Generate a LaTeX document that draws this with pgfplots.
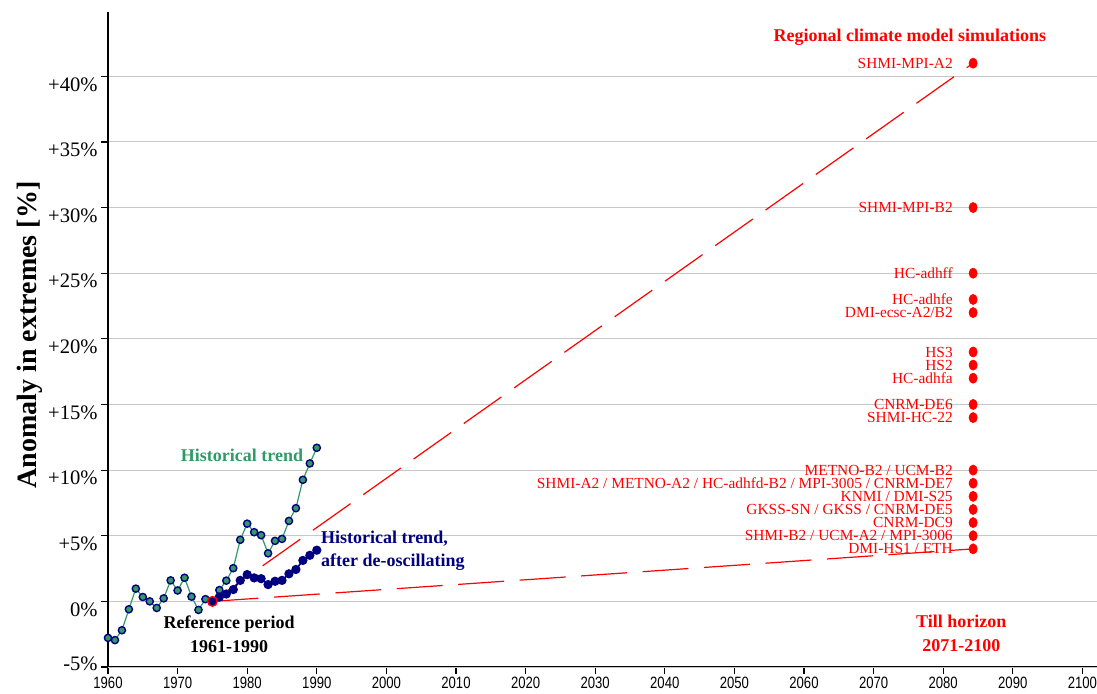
\documentclass[border=0pt]{standalone}
\usepackage{fontspec}
\setmainfont{Liberation Serif}
\newfontfamily\xfont[FakeStretch=0.8]{Liberation Sans}
\usepackage{pgfplots}
\pgfplotsset{compat=1.18}

\definecolor{histgreen}{RGB}{51,153,102}
\definecolor{histnavy}{RGB}{0,0,128}

\begin{document}
\begin{tikzpicture}
\path[use as bounding box] (-54pt,-13pt) rectangle (494.5pt,333.5pt);
\begin{axis}[
    at={(0,0)}, anchor=south west,
    scale only axis, width=494.5pt, height=327.5pt,
    xmin=1960, xmax=2102.1,
    ymin=-5, ymax=44.9,
    axis x line=bottom, axis y line=left,
    axis line style={-, line width=0.75pt},
    tick align=outside, major tick length=3.5pt,
    tick style={black, line width=0.6pt},
    xtick={1960,1970,1980,1990,2000,2010,2020,2030,2040,2050,2060,2070,2080,2090,2100},
    xticklabels={1960,1970,1980,1990,2000,2010,2020,2030,2040,2050,2060,2070,2080,2090,2100},
    xticklabel style={font=\xfont\fontsize{8.2}{9}\selectfont, inner sep=0.5pt, yshift=-1pt},
    ytick={0,5,10,15,20,25,30,35,40},
    yticklabels={0\%,+5\%,+10\%,+15\%,+20\%,+25\%,+30\%,+35\%,+40\%},
    yticklabel style={font=\fontsize{10.3}{12}\selectfont, inner sep=1.5pt, yshift=-4pt},
    extra y ticks={-5},
    extra y tick labels={-5\%},
    extra y tick style={yticklabel style={yshift=5.5pt}},
    ymajorgrids, grid style={black!22, line width=0.5pt},
    ylabel={Anomaly in extremes [\%]},
    ylabel style={font=\fontsize{14}{16}\selectfont\bfseries,
        at={(axis description cs:-0.079,0.507)}, anchor=center},
    clip=true,
]

% projection lines, 1975 -> horizon
\addplot[red, line width=0.6pt, dash pattern=on 23pt off 7.8pt] coordinates {(1975,0) (2084.3,41)};
\addplot[red, line width=0.6pt, dash pattern=on 23pt off 7.8pt] coordinates {(1975,0) (2084.3,4)};

% historical trend
\addplot[histgreen, line width=0.6pt] coordinates {(1959,-5) (1960,-2.78)};
\addplot[histgreen, line width=0.6pt, mark=*, mark size=1.8pt,
    mark options={fill=histgreen, draw=histnavy, line width=0.7pt}]
    coordinates {
    (1960,-2.78)(1961,-2.95)(1962,-2.2)(1963,-0.6)(1964,0.97)(1965,0.33)
    (1966,0.0)(1967,-0.5)(1968,0.23)(1969,1.6)(1970,0.83)(1971,1.8)
    (1972,0.36)(1973,-0.65)(1974,0.17)(1975,0.0)(1976,0.86)(1977,1.58)
    (1978,2.53)(1979,4.69)(1980,5.92)(1981,5.27)(1982,5.04)(1983,3.66)
    (1984,4.61)(1985,4.76)(1986,6.13)(1987,7.10)(1988,9.26)(1989,10.51)
    (1990,11.70)
    };

% after de-oscillating
\addplot[histnavy, line width=0.8pt, mark=*, mark size=1.9pt,
    mark options={fill=histnavy, draw=histnavy}]
    coordinates {
    (1975,0.0)(1976,0.33)(1977,0.56)(1978,0.9)(1979,1.6)(1980,2.04)
    (1981,1.79)(1982,1.73)(1983,1.28)(1984,1.53)(1985,1.6)(1986,2.1)
    (1987,2.43)(1988,3.12)(1989,3.51)(1990,3.9)
    };
\addplot[only marks, mark=*, mark size=2.4pt,
    mark options={fill=histnavy, draw=red, line width=0.7pt}]
    coordinates {(1975,0.0)};

% regional climate model simulations
\addplot[only marks, mark=*, mark size=2pt, red,
    mark options={fill=red, draw=red, yscale=1.25},
    point meta=explicit symbolic, nodes near coords,
    nodes near coords style={anchor=east, xshift=-10pt, inner sep=0pt,
        text depth=0pt, text=red, font=\fontsize{7.7}{9}\selectfont}]
    coordinates {
    (2084.3,41)[SHMI-MPI-A2]
    (2084.3,30)[SHMI-MPI-B2]
    (2084.3,25)[HC-adhff]
    (2084.3,23)[HC-adhfe]
    (2084.3,22)[DMI-ecsc-A2/B2]
    (2084.3,19)[HS3]
    (2084.3,18)[HS2]
    (2084.3,17)[HC-adhfa]
    (2084.3,15)[CNRM-DE6]
    (2084.3,14)[SHMI-HC-22]
    (2084.3,10)[METNO-B2 / UCM-B2]
    (2084.3,9)[SHMI-A2 / METNO-A2 / HC-adhfd-B2 / MPI-3005 / CNRM-DE7]
    (2084.3,8)[KNMI / DMI-S25]
    (2084.3,7)[GKSS-SN / GKSS / CNRM-DE5]
    (2084.3,6)[CNRM-DC9]
    (2084.3,5)[SHMI-B2 / UCM-A2 / MPI-3006]
    (2084.3,4)[DMI-HS1 / ETH]
    };

% annotations
\node[font=\fontsize{9}{11.85}\selectfont\bfseries, text=red] at (axis cs:2075.2,43.0) {Regional climate model simulations};
\node[font=\fontsize{9}{11.85}\selectfont\bfseries, text=histgreen] at (axis cs:1979.25,11.1) {Historical trend};
\node[font=\fontsize{9}{11.85}\selectfont\bfseries, text=histnavy, anchor=west, align=left, inner sep=0pt] at (axis cs:1990.56,3.85) {Historical trend,\\after de-oscillating};
\node[font=\fontsize{9}{11.85}\selectfont\bfseries, align=center] at (axis cs:1977.4,-2.53) {Reference period\\1961-1990};
\node[font=\fontsize{9}{11.85}\selectfont\bfseries, text=red, align=center] at (axis cs:2082.6,-2.46) {Till horizon\\2071-2100};

\end{axis}
\end{tikzpicture}
\end{document}
